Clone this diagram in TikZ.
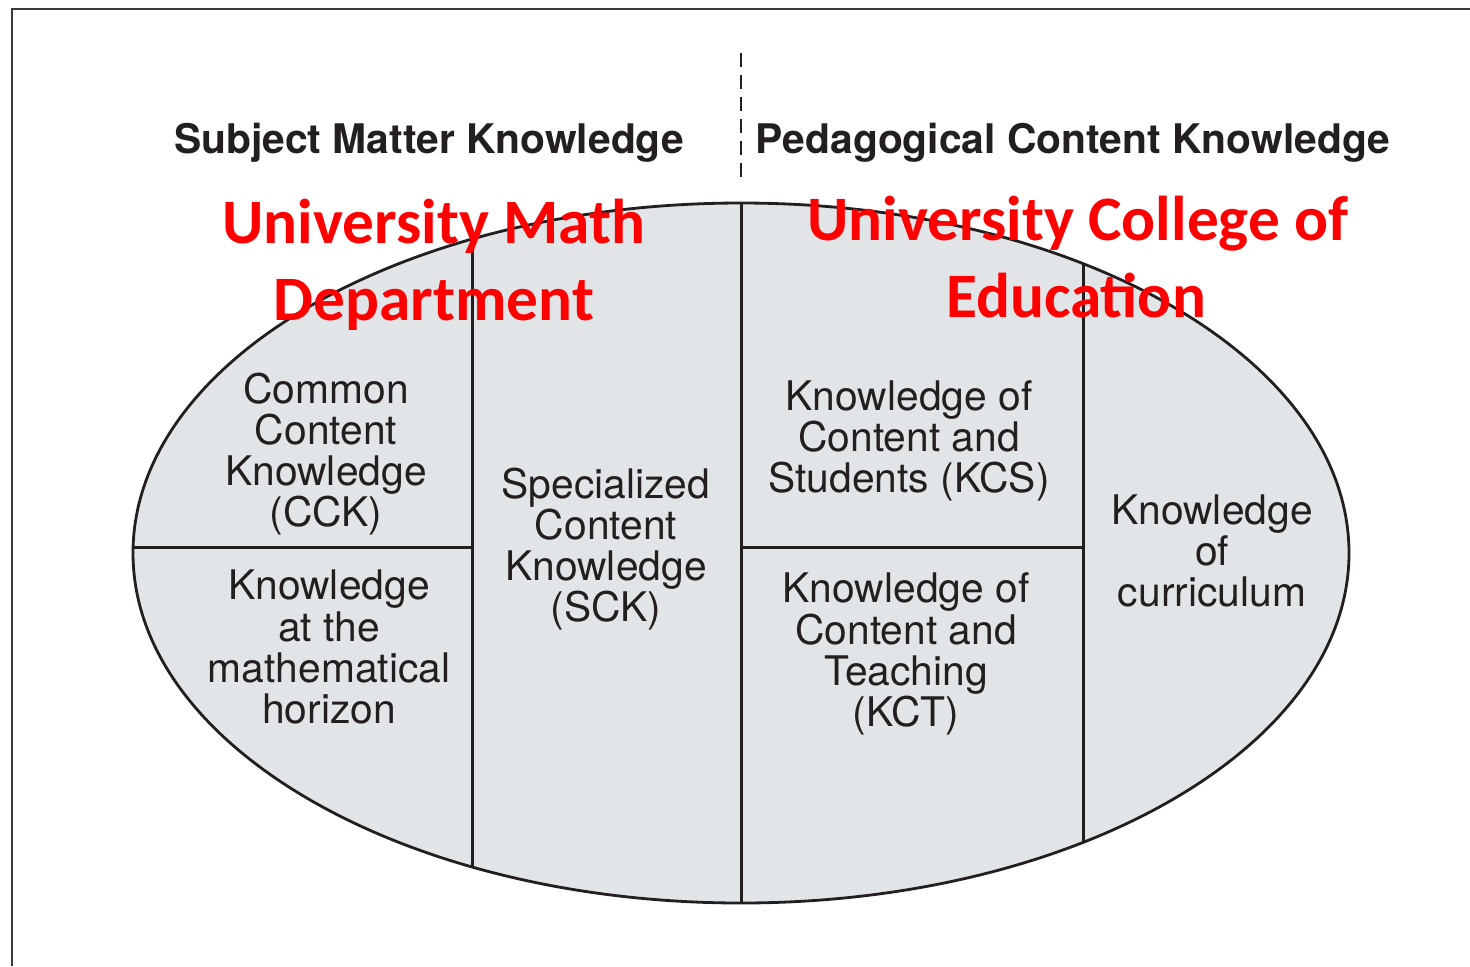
\documentclass[tikz,border=0pt]{standalone}
\usepackage{fontspec}
\setsansfont{TeX Gyre Heros}
\newfontfamily\redfont{Carlito}
\definecolor{inkdark}{HTML}{231F20}
\definecolor{cellgray}{HTML}{E2E5E7}
\definecolor{framegray}{HTML}{3A3A3A}
\definecolor{labelred}{HTML}{FF0000}
\begin{document}
\begin{tikzpicture}[x=0.01cm,y=-0.01cm,
  divider/.style={draw=inkdark,line width=0.85pt},
  cellText/.style={align=center,text=inkdark,inner sep=0pt,
    font=\sffamily\fontsize{11.6}{11.7}\selectfont},
  headText/.style={anchor=base,text=inkdark,inner sep=0pt,
    font=\sffamily\bfseries\fontsize{11.6}{13}\selectfont},
  redText/.style={anchor=base,text=labelred,inner sep=0pt,
    font=\redfont\bfseries\fontsize{18}{22}\selectfont}]
\useasboundingbox (0,0) rectangle (1470,966);

% outer frame (only top and left edges fall inside the page)
\draw[framegray,line width=0.6pt] (12,966) -- (12,9) -- (1470,9);

% key points of the oval
\coordinate (ctr) at (741,553);
\coordinate (mtop) at (741,203);
\coordinate (mbot) at (741,903);

% filled oval
\fill[cellgray] (ctr) ellipse [x radius=608,y radius=350];

% dividers, clipped to the oval
\begin{scope}
  \clip (ctr) ellipse [x radius=608,y radius=350];
  \draw[divider] (472,150) -- (472,960);
  \draw[divider] (mtop) -- (mbot);
  \draw[divider] (1083,150) -- (1083,960);
  \draw[divider] (100,547) -- (472,547);
  \draw[divider] (741,547) -- (1083,547);
\end{scope}

% oval outline
\draw[inkdark,line width=0.8pt] (ctr) ellipse [x radius=608,y radius=350];

% dashed separator between the two headings
\coordinate (dashtop) at (741,53);
\coordinate (dashbot) at (741,180);
\draw[inkdark,line width=0.55pt,dash pattern=on 0.14cm off 0.08cm] (dashtop) -- (dashbot);

% headings
\node[headText] (smk) at (429,153) {Subject Matter Knowledge};
\node[headText] (pck) at (1073,153) {Pedagogical Content Knowledge};

% cell labels
\node[cellText] (cck) at (326,454) {Common\\Content\\Knowledge\\(CCK)};
\node[cellText] (hor) at (329,647) {Knowledge\\at the\\mathematical\\horizon};
\node[cellText] (sck) at (606,549) {Specialized\\Content\\Knowledge\\(SCK)};
\node[cellText] (kcs) at (909,441) {Knowledge of\\Content and\\Students (KCS)};
\node[cellText] (kct) at (906,654) {Knowledge of\\Content and\\Teaching\\(KCT)};
\node[cellText] (kcu) at (1212,551) {Knowledge\\of\\curriculum};

% red overlay labels
\node[redText] (um1) at (434,243) {University Math};
\node[redText] (um2) at (434,320) {Department};
\node[redText] (uc1) at (1078,240) {University College of};
\node[redText] (uc2) at (1076,317) {Education};
\end{tikzpicture}
\end{document}
